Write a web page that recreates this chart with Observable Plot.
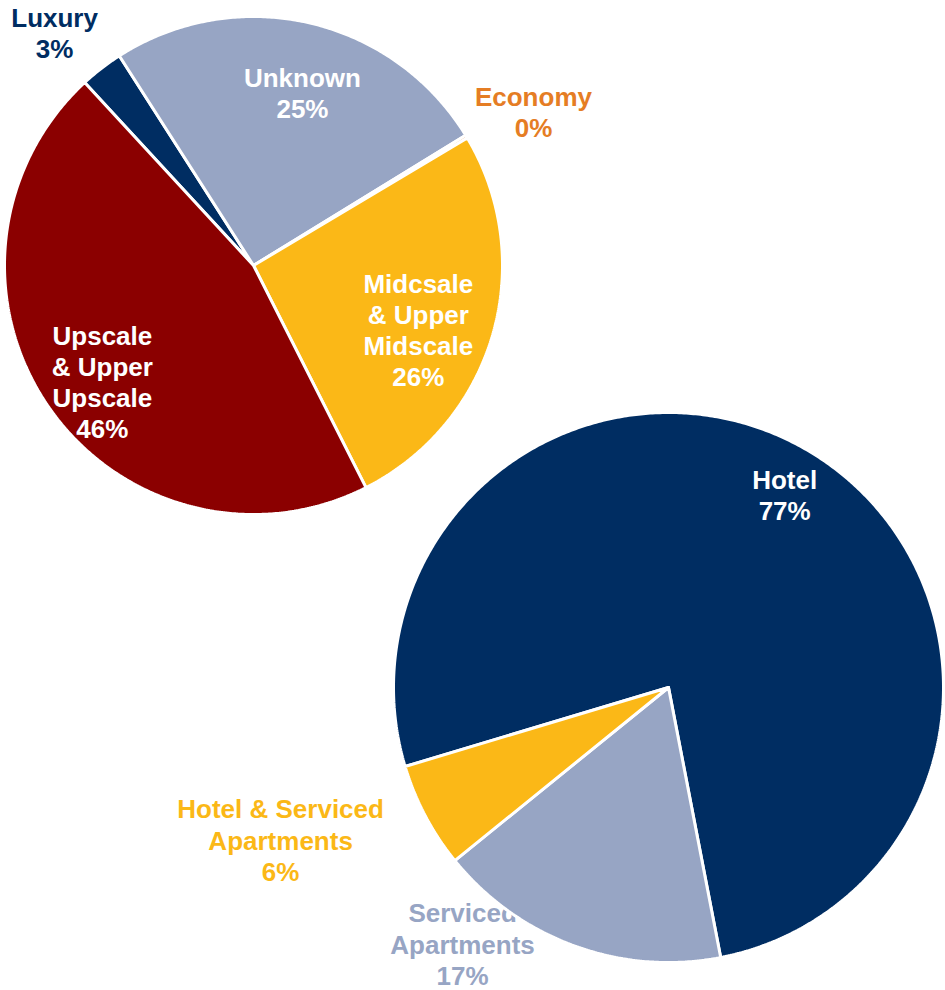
<!DOCTYPE html>
<html><head><meta charset="utf-8">
<script src="https://cdn.jsdelivr.net/npm/d3@7"></script>
<script src="https://cdn.jsdelivr.net/npm/@observablehq/plot@0.6"></script>
<style>body{margin:0;background:#fff}</style>
</head><body><div id="chart"></div>
<script>
// ---- data ----
const classCategories = ["Luxury", "Unknown", "Economy", "Midcsale & Upper Midscale", "Upscale & Upper Upscale"];
const classLabels = ["Luxury", "Unknown", "Economy", "Midcsale\n& Upper\nMidscale", "Upscale\n& Upper\nUpscale"];
const classValues = [2.8, 25.3, 0.2, 26.1, 45.6];

const typeCategories = ["Hotel", "Serviced Apartments", "Hotel & Serviced Apartments"];
const typeLabels = ["Hotel", "Serviced\nApartments", "Hotel & Serviced\nApartments"];
const typeValues = [76.6, 17.2, 6.2];

// ---- styles ----
const NAVY = "#002D62", GREY = "#97A5C4", YELLOW = "#FBB817", RED = "#8B0000", ORANGE = "#E57D24", WHITE = "#ffffff";
const classColors = [NAVY, GREY, ORANGE, YELLOW, RED];
const classLabelColors = [NAVY, WHITE, ORANGE, WHITE, WHITE];
const typeColors = [NAVY, GREY, YELLOW];
const typeLabelColors = [WHITE, GREY, YELLOW];

// ---- layout (pie centres/radii in px, label polar placement: angle in degrees, k = radius factor) ----
const layout = {
  class: {cx: 253, cy: 265, r: 249, start: -42.7,
    labels: [{a: -40.5, k: 1.23, out: true}, {a: 15.8, k: 0.722}, {a: 61.2, k: 1.283, out: true}, {a: 111.2, k: 0.71}, {a: 232.5, k: 0.765}]},
  type: {cx: 668, cy: 687, r: 275, start: -106.7,
    labels: [{a: 31.0, k: 0.82}, {a: 218.8, k: 1.195, out: true}, {a: 248.6, k: 1.515, out: true}]}
};

function build(name, cats, labels, values, colors, labelColors) {
  const L = layout[name];
  const rad = Math.PI / 180;
  const arcs = d3.pie().sort(null).value(d => d)
    .startAngle(L.start * rad).endAngle(L.start * rad + 2 * Math.PI)(values);
  const pts = [];
  arcs.forEach((a, i) => {
    const key = name + i;
    const push = (ang, rr) => pts.push({key, color: colors[i], x: L.cx + rr * Math.sin(ang), y: L.cy - rr * Math.cos(ang)});
    push(0, 0);
    const n = Math.max(2, Math.ceil((a.endAngle - a.startAngle) / (0.5 * rad)));
    for (let j = 0; j <= n; j++) push(a.startAngle + (a.endAngle - a.startAngle) * j / n, L.r);
    push(0, 0);
  });
  const texts = arcs.map((a, i) => {
    const p = L.labels[i];
    return {
      text: labels[i] + "\n" + Math.round(values[i]) + "%",
      color: labelColors[i],
      out: !!p.out,
      x: L.cx + p.k * L.r * Math.sin(p.a * rad),
      y: L.cy - p.k * L.r * Math.cos(p.a * rad)
    };
  });
  return {pts, texts};
}

const A = build("class", classCategories, classLabels, classValues, classColors, classLabelColors);
const B = build("type", typeCategories, typeLabels, typeValues, typeColors, typeLabelColors);
const allPts = A.pts.concat(B.pts);
const allTexts = A.texts.concat(B.texts);

const textOpts = {
  x: "x", y: "y", text: "text", fill: "color",
  fontSize: 26, fontWeight: "bold", lineHeight: 1.2,
  fontFamily: "'Liberation Sans', Arial, sans-serif",
  textAnchor: "middle", lineAnchor: "middle"
};

const chart = Plot.plot({
  width: 945, height: 990,
  margin: 0,
  x: {domain: [0, 945], range: [0, 945], axis: null},
  y: {domain: [0, 990], range: [0, 990], axis: null},
  color: {type: "identity"},
  style: {background: "white"},
  marks: [
    Plot.text(allTexts.filter(d => d.out), textOpts),
    Plot.line(allPts, {x: "x", y: "y", z: "key", fill: "color", stroke: "white", strokeWidth: 3, strokeLinejoin: "miter", strokeOpacity: 1}),
    Plot.text(allTexts.filter(d => !d.out), textOpts)
  ]
});
document.getElementById("chart").appendChild(chart);
</script>
</body></html>
